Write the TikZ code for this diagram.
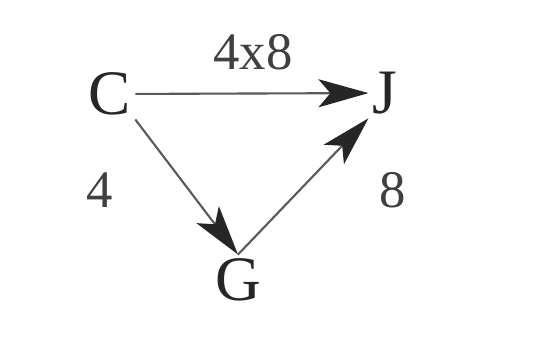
\documentclass[tikz,border=0pt]{standalone}
\usepackage{fontspec}
\setmainfont{Liberation Serif}
\usetikzlibrary{arrows.meta, positioning}

\begin{document}
\begin{tikzpicture}[
    x=0.01cm, y=-0.01cm,
    vertex/.style={inner sep=1pt, font=\fontsize{18}{19}\selectfont, text=black!85},
    weight/.style={inner sep=1pt, font=\fontsize{15}{16}\selectfont, text=black!75},
    harrow/.style={-{Stealth[length=5mm, width=2.8mm, inset=1.2mm, black!85]}, line width=0.6pt, draw=black!65}
]
\useasboundingbox (0,0) rectangle (534,347);
\node[vertex] (c) at (110,94) {C};
\node[vertex] (j) at (385,93) {J};
\node[vertex] (g) at (238,280) {G};
\node[weight] (cj) at (253,52) {4x8};
\node[weight] (cg) at (100,190) {4};
\node[weight] (gj) at (393,190) {8};

\draw[harrow] (c) -- (j);
\draw[harrow] (c.south east) -- (g.north);
\draw[harrow] (g.north) -- (j.south west);
\end{tikzpicture}
\end{document}
